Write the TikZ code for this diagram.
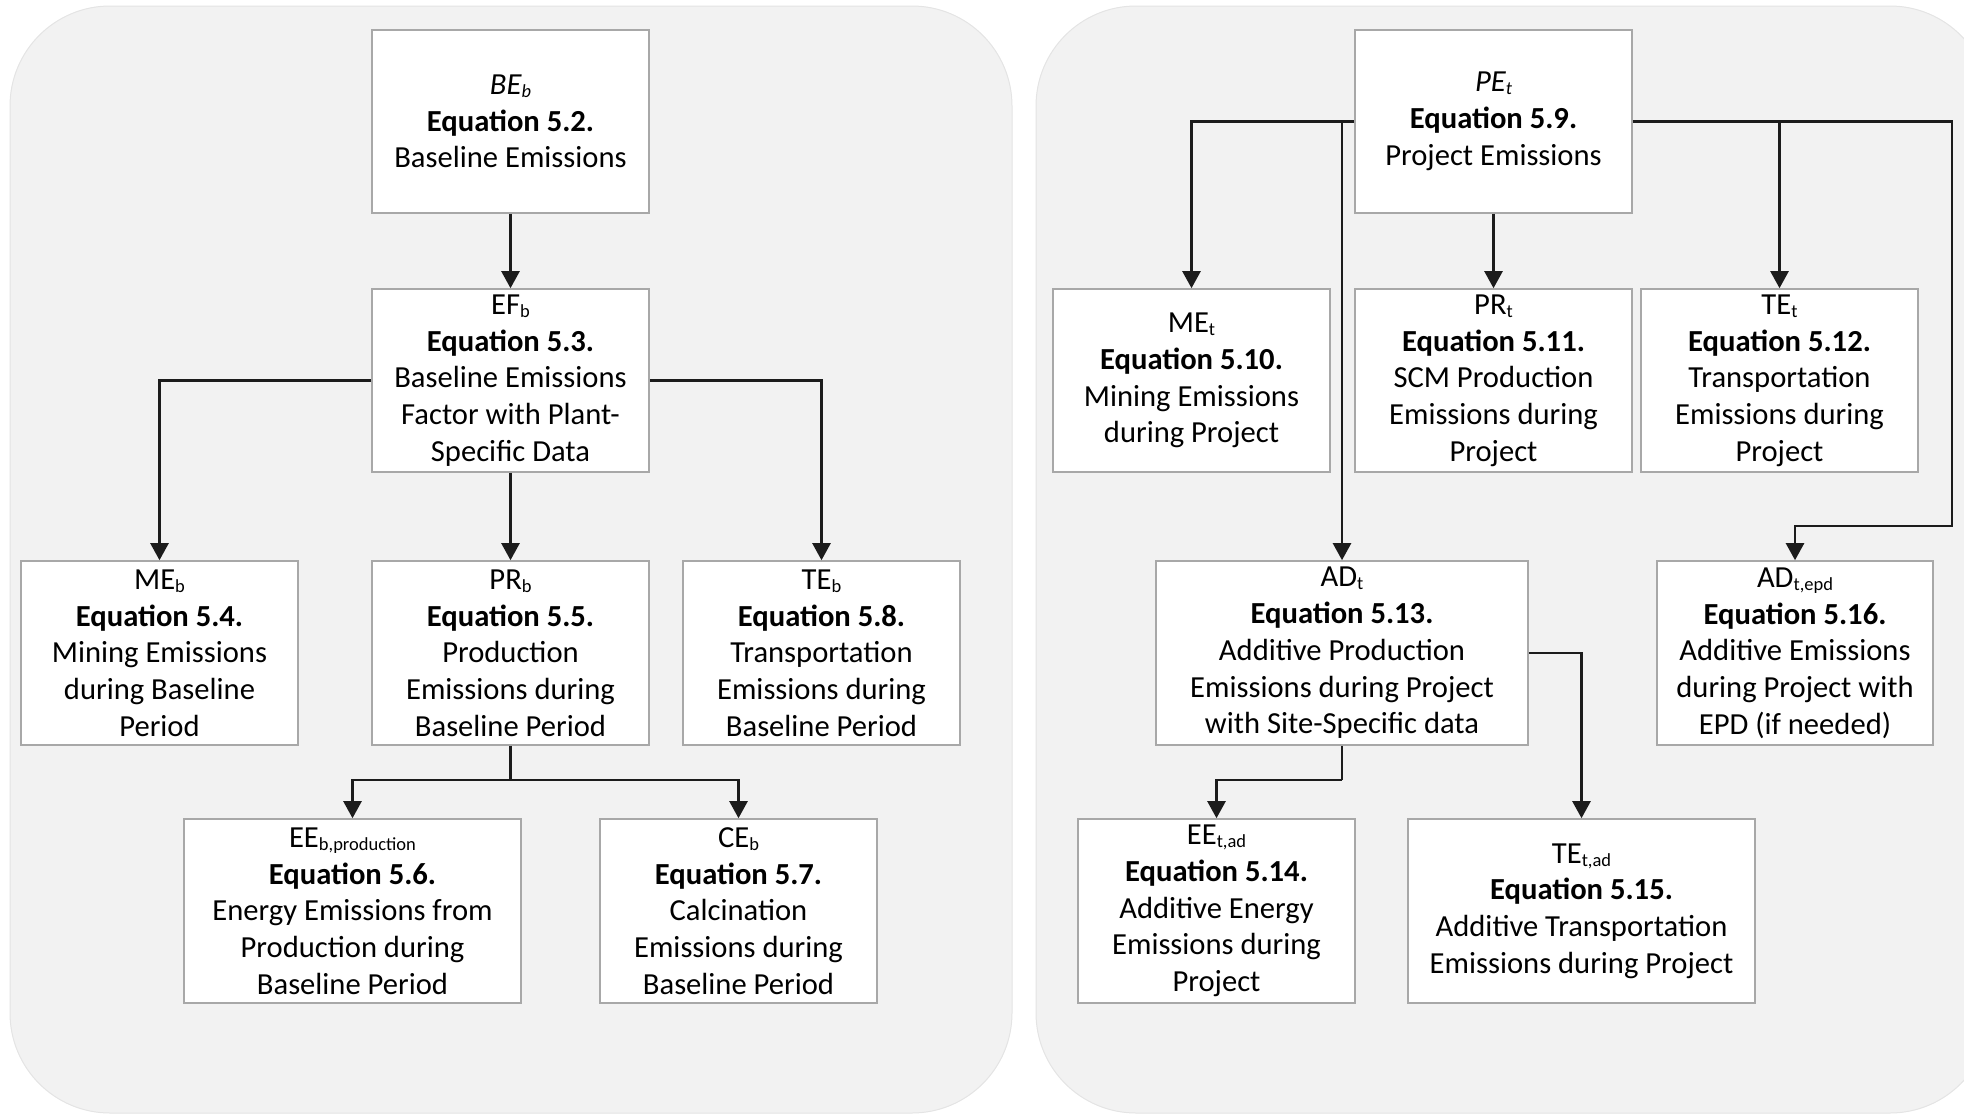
\documentclass[tikz,border=0pt]{standalone}
\usepackage{fontspec}
\setmainfont{Carlito}
\usetikzlibrary{arrows.meta}
\definecolor{panelfill}{RGB}{242,242,242}
\definecolor{paneledge}{RGB}{228,228,228}
\definecolor{boxedge}{RGB}{168,168,168}
\definecolor{linecol}{RGB}{28,28,28}
\newcommand\lowsub[1]{\raisebox{-3pt}{\fontsize{18.5}{18.5}\selectfont #1}}
\tikzset{
  panel/.style={fill=panelfill, draw=paneledge, line width=1pt, rounded corners=100pt},
  eqbox/.style={draw=boxedge, fill=white, line width=1.6pt, inner sep=0pt, align=center,
    minimum width=277pt, minimum height=183pt, anchor=center,
    font=\fontsize{30.6}{36.7}\selectfont},
  arr/.style={draw=linecol, line width=2.4pt, -{Triangle[length=17pt,width=18pt]}},
  ln/.style={draw=linecol, line width=2.4pt}
}
\begin{document}
\begin{tikzpicture}[x=1pt,y=-1pt]
\useasboundingbox (0,0) rectangle (1964,1114);
% panels
\path[panel] (10,6) rectangle (1012,1113);
\path[panel] (1036,6) rectangle (1990,1113);
% left boxes
\node[eqbox] (BE) at (510.5,121.5) {\textit{BE\lowsub{b}}\\\textbf{Equation 5.2.}\\Baseline Emissions};
\node[eqbox] (EF) at (510.5,380.5) {EF\lowsub{b}\\\textbf{Equation 5.3.}\\Baseline Emissions\\Factor with Plant-\\Specific Data};
\node[eqbox, minimum height=184pt] (ME) at (159.5,653) {ME\lowsub{b}\\\textbf{Equation 5.4.}\\Mining Emissions\\during Baseline\\Period};
\node[eqbox, minimum height=184pt] (PR) at (510.5,653) {PR\lowsub{b}\\\textbf{Equation 5.5.}\\Production\\Emissions during\\Baseline Period};
\node[eqbox, minimum height=184pt] (TE) at (821.5,653) {TE\lowsub{b}\\\textbf{Equation 5.8.}\\Transportation\\Emissions during\\Baseline Period};
\node[eqbox, minimum height=184pt, minimum width=337pt] (EE) at (352.5,911) {EE\lowsub{b,production}\\\textbf{Equation 5.6.}\\Energy Emissions from\\Production during\\Baseline Period};
\node[eqbox, minimum height=184pt] (CE) at (738.5,911) {CE\lowsub{b}\\\textbf{Equation 5.7.}\\Calcination\\Emissions during\\Baseline Period};
% right boxes
\node[eqbox] (PE) at (1493.5,121.5) {\textit{PE\lowsub{t}}\\\textbf{Equation 5.9.}\\Project Emissions};
\node[eqbox] (MEt) at (1191.5,380.5) {ME\lowsub{t}\\\textbf{Equation 5.10.}\\Mining Emissions\\during Project};
\node[eqbox] (PRt) at (1493.5,380.5) {PR\lowsub{t}\\\textbf{Equation 5.11.}\\SCM Production\\Emissions during\\Project};
\node[eqbox] (TEt) at (1779.5,380.5) {TE\lowsub{t}\\\textbf{Equation 5.12.}\\Transportation\\Emissions during\\Project};
\node[eqbox, minimum height=184pt, minimum width=372pt] (ADt) at (1342,653) {AD\lowsub{t}\\\textbf{Equation 5.13.}\\Additive Production\\Emissions during Project\\with Site-Specific data};
\node[eqbox, minimum height=184pt, minimum width=276pt] (ADe) at (1795,653) {AD\lowsub{t,epd}\\\textbf{Equation 5.16.}\\Additive Emissions\\during Project with\\EPD (if needed)};
\node[eqbox, minimum height=184pt] (EEt) at (1216.5,911) {EE\lowsub{t,ad}\\\textbf{Equation 5.14.}\\Additive Energy\\Emissions during\\Project};
\node[eqbox, minimum height=184pt, minimum width=347pt] (TEta) at (1581.5,911) {TE\lowsub{t,ad}\\\textbf{Equation 5.15.}\\Additive Transportation\\Emissions during Project};
% left connectors
\draw[arr] (BE.south) -- (EF.north);
\draw[arr] (EF.west) -| (ME.north);
\draw[arr] (EF.east) -| (TE.north);
\draw[arr] (EF.south) -- (PR.north);
\coordinate (pj) at ([yshift=-34pt]PR.south);
\draw[ln] (PR.south) -- (pj);
\draw[arr] (pj) -| (EE.north);
\draw[arr] (pj) -| (CE.north);
% right connectors
\draw[arr] (PE.west) -| (MEt.north);
\draw[arr] (ADt.north |- PE.west) -- (ADt.north);
\draw[arr] (PE.south) -- (PRt.north);
\coordinate (rt) at (1952,121.5);
\coordinate (rb) at (1952,526);
\draw[arr] (PE.east) -- (rt) -- (rb) -| (ADe.north);
\draw[arr] (TEt.north |- PE.east) -- (TEt.north);
\draw[arr] (ADt.east) -| (TEta.north);
\coordinate (aj) at ([yshift=-34pt]ADt.south);
\draw[ln] (ADt.south) -- (aj);
\draw[arr] (aj) -| (EEt.north);
\end{tikzpicture}
\end{document}
